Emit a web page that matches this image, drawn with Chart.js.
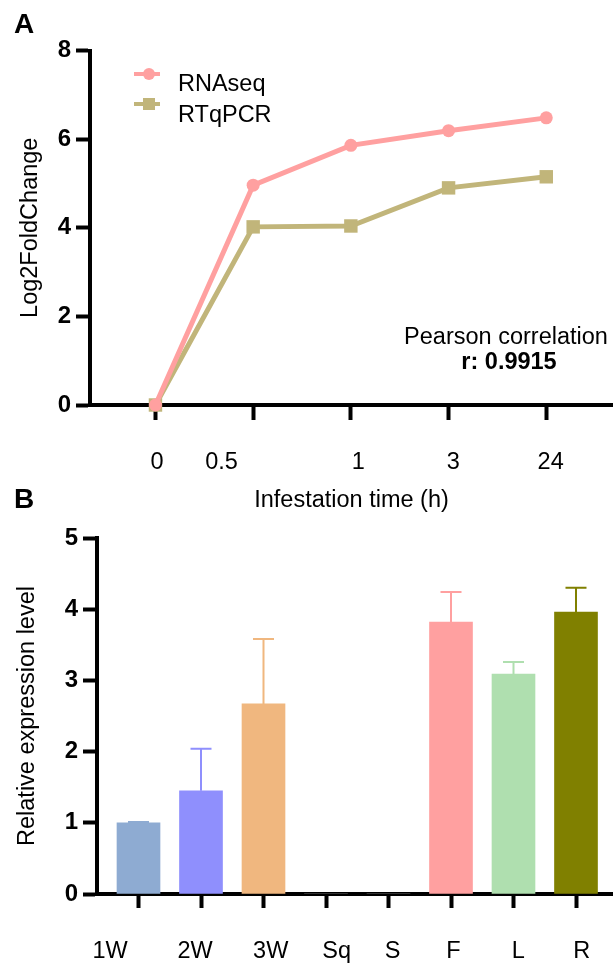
<!DOCTYPE html>
<html>
<head>
<meta charset="utf-8">
<script src="https://cdn.jsdelivr.net/npm/chart.js@4.4.1/dist/chart.umd.min.js"></script>
<style>
    html, body { margin: 0; padding: 0; background: #fff; }
    #wrap { position: relative; width: 613px; height: 967px; overflow: hidden; }
    #chartA { position: absolute; left: 0; top: 0; }
    #chartB { position: absolute; left: 0; top: 480px; }
</style>
</head>
<body>
<div id="wrap">
    <canvas id="chartB" width="613" height="487"></canvas>
    <canvas id="chartA" width="613" height="520"></canvas>
</div>
<script>
// ---- Painel A: Log2FoldChange ao longo do tempo de infestação
const timeLabels = ['0', '0.5', '1', '3', '24'];
const rnaseqValues = [0, 4.96, 5.86, 6.19, 6.48];
const rtqpcrValues = [0, 4.02, 4.04, 4.90, 5.15];

// ---- Painel B: expressão relativa por tecido
const tissueLabels = ['1W', '2W', '3W', 'Sq', 'S', 'F', 'L', 'R'];
const expressionValues = [1.00, 1.45, 2.67, 0, 0, 3.82, 3.09, 3.96];
const expressionErrors = [0.01, 0.59, 0.91, 0, 0, 0.42, 0.17, 0.34];

// cores
const COLOR_RNASEQ = '#ffa0a0';
const COLOR_RTQPCR = '#c1b57a';
const tissueColors = ['#8eabd2', '#8f8ffd', '#f0b77f', '#cccccc', '#cccccc', '#ffa0a0', '#afdfaf', '#808000'];

const FONT = "'Liberation Sans', Arial, sans-serif";
Chart.defaults.font.family = FONT;
Chart.defaults.color = '#000';

// deslocamento dos rótulos do eixo x em relação às marcas (como no original)
const timeLabelShift = [0.015, -0.324, 0.076, 0.048, 0.045];
const tissueLabelShift = [-0.456, -0.096, 0.115, 0.171, 0.067, 0.037, 0.077, 0.091];

// Texto livre (letras dos painéis, anotações)
const panelText = {
    id: 'panelText',
    afterDraw(chart, args, opts) {
        const ctx = chart.ctx;
        ctx.save();
        ctx.fillStyle = '#000';
        ctx.textBaseline = 'alphabetic';
        (opts.items || []).forEach(t => {
            ctx.font = t.font;
            ctx.textAlign = t.align || 'left';
            ctx.fillText(t.text, t.x, t.y);
        });
        ctx.restore();
    }
};

// Legenda desenhada dentro da área do gráfico
const lineLegend = {
    id: 'lineLegend',
    afterDraw(chart, args, opts) {
        const ctx = chart.ctx;
        ctx.save();
        chart.data.datasets.forEach((ds, i) => {
            const row = opts.rows[i];
            ctx.strokeStyle = ds.borderColor;
            ctx.fillStyle = ds.borderColor;
            ctx.lineWidth = 4;
            ctx.beginPath();
            ctx.moveTo(opts.x0, row.sy);
            ctx.lineTo(opts.x1, row.sy);
            ctx.stroke();
            ctx.beginPath();
            if (ds.pointStyle === 'rect') {
                ctx.rect(opts.mx - 6, row.sy - 6, 12, 12);
            } else {
                ctx.arc(opts.mx, row.sy, 6, 0, Math.PI * 2);
            }
            ctx.fill();
            ctx.fillStyle = '#000';
            ctx.font = '23.5px ' + FONT;
            ctx.textAlign = 'left';
            ctx.textBaseline = 'alphabetic';
            ctx.fillText(ds.label, opts.tx, row.ty);
        });
        ctx.restore();
    }
};

// Barras de erro (somente para cima)
const errorBars = {
    id: 'errorBars',
    afterDatasetsDraw(chart) {
        const ctx = chart.ctx;
        const xs = chart.scales.x;
        const ys = chart.scales.y;
        ctx.save();
        ctx.lineWidth = 2;
        expressionValues.forEach((v, i) => {
            if (!v) return;
            const px = xs.getPixelForValue(i);
            const base = ys.getPixelForValue(v);
            const top = ys.getPixelForValue(v + expressionErrors[i]);
            ctx.strokeStyle = tissueColors[i];
            ctx.beginPath();
            ctx.moveTo(px, base);
            ctx.lineTo(px, top);
            ctx.moveTo(px - 10.5, top);
            ctx.lineTo(px + 10.5, top);
            ctx.stroke();
        });
        ctx.restore();
    }
};

const tickFont = { family: FONT, size: 24, weight: 'bold' };
const labelFont = { family: FONT, size: 23.5 };

// ---------------- Gráfico A
new Chart(document.getElementById('chartA'), {
    type: 'line',
    data: {
        datasets: [{
            label: 'RNAseq',
            data: rnaseqValues.map((v, i) => ({ x: i, y: v })),
            borderColor: COLOR_RNASEQ,
            backgroundColor: COLOR_RNASEQ,
            borderWidth: 5,
            pointStyle: 'circle',
            pointRadius: 6.5,
            pointBorderWidth: 0,
            tension: 0,
            clip: false
        }, {
            label: 'RTqPCR',
            data: rtqpcrValues.map((v, i) => ({ x: i, y: v })),
            borderColor: COLOR_RTQPCR,
            backgroundColor: COLOR_RTQPCR,
            borderWidth: 5,
            pointStyle: 'rect',
            pointRadius: 9.5,
            pointBorderWidth: 0,
            tension: 0,
            clip: false
        }]
    },
    options: {
        responsive: false,
        animation: false,
        devicePixelRatio: 1,
        layout: { autoPadding: false, padding: { top: 50.5, right: 0, bottom: 0, left: 0 } },
        plugins: {
            legend: { display: false },
            tooltip: { enabled: false },
            lineLegend: {
                x0: 134, x1: 160, mx: 149, tx: 178,
                rows: [{ sy: 74, ty: 91 }, { sy: 104, ty: 122 }]
            },
            panelText: {
                items: [
                    { text: 'A', x: 14, y: 33, font: 'bold 28px ' + FONT },
                    { text: 'Pearson correlation', x: 506, y: 344, align: 'center', font: '23.5px ' + FONT },
                    { text: 'r: 0.9915', x: 509, y: 369, align: 'center', font: 'bold 23.5px ' + FONT }
                ]
            }
        },
        scales: {
            x: {
                type: 'linear', position: 'bottom', weight: 0, offset: false,
                min: -0.670, max: 4.683,
                afterBuildTicks: s => { s.ticks = timeLabels.map((_, i) => ({ value: i })); },
                afterFit: s => { s.height = 15; },
                border: { display: true, color: '#000', width: 4 },
                grid: { display: true, drawOnChartArea: false, offset: false, tickLength: 15, tickWidth: 4, tickColor: '#000' },
                ticks: { display: false }
            },
            xl: {
                type: 'linear', position: 'bottom', weight: 1, offset: false,
                min: -0.670, max: 4.683,
                afterBuildTicks: s => { s.ticks = timeLabels.map((_, i) => ({ value: i + timeLabelShift[i] })); },
                afterFit: s => { s.height = 100; },
                border: { display: false },
                grid: { display: false },
                ticks: {
                    autoSkip: false, maxRotation: 0, padding: 20, color: '#000', font: labelFont,
                    callback: (v, i) => timeLabels[i]
                },
                title: { display: true, text: 'Infestation time (h)', color: '#000', font: labelFont, padding: { top: 0, bottom: 5 } }
            },
            y: {
                min: 0, max: 8,
                afterFit: s => { s.width = 90; },
                border: { display: true, color: '#000', width: 4 },
                grid: { drawOnChartArea: false, tickLength: 14, tickWidth: 4, tickColor: '#000' },
                ticks: { stepSize: 2, padding: 5, color: '#000', font: tickFont },
                title: { display: true, text: 'Log2FoldChange', color: '#000', font: labelFont, padding: { top: 16, bottom: 0 } }
            }
        }
    },
    plugins: [lineLegend, panelText]
});

// ---------------- Gráfico B
new Chart(document.getElementById('chartB'), {
    type: 'bar',
    data: {
        datasets: [{
            data: expressionValues.map((v, i) => ({ x: i, y: v })),
            backgroundColor: tissueColors,
            borderWidth: 0,
            barThickness: 43
        }]
    },
    options: {
        responsive: false,
        animation: false,
        devicePixelRatio: 1,
        layout: { autoPadding: false, padding: { top: 58, right: 0, bottom: 0, left: 0 } },
        plugins: {
            legend: { display: false },
            tooltip: { enabled: false },
            panelText: {
                items: [
                    { text: 'B', x: 14, y: 28, font: 'bold 28px ' + FONT }
                ]
            }
        },
        scales: {
            x: {
                type: 'linear', position: 'bottom', weight: 0, offset: false,
                min: -0.664, max: 7.592,
                afterBuildTicks: s => { s.ticks = tissueLabels.map((_, i) => ({ value: i })); },
                afterFit: s => { s.height = 14; },
                border: { display: true, color: '#000', width: 4 },
                grid: { display: true, drawOnChartArea: false, offset: false, tickLength: 14, tickWidth: 4, tickColor: '#000' },
                ticks: { display: false }
            },
            xl: {
                type: 'linear', position: 'bottom', weight: 1, offset: false,
                min: -0.664, max: 7.592,
                afterBuildTicks: s => { s.ticks = tissueLabels.map((_, i) => ({ value: i + tissueLabelShift[i] })); },
                afterFit: s => { s.height = 59; },
                border: { display: false },
                grid: { display: false },
                ticks: {
                    autoSkip: false, maxRotation: 0, padding: 21, color: '#000', font: labelFont,
                    callback: (v, i) => tissueLabels[i]
                }
            },
            y: {
                min: 0, max: 5,
                afterFit: s => { s.width = 97; },
                border: { display: true, color: '#000', width: 4 },
                grid: { drawOnChartArea: false, tickLength: 14, tickWidth: 4, tickColor: '#000' },
                ticks: { stepSize: 1, padding: 5, color: '#000', font: tickFont },
                title: { display: true, text: 'Relative expression level', color: '#000', font: labelFont, padding: { top: 13.5, bottom: 0 } }
            }
        }
    },
    plugins: [errorBars, panelText]
});
</script>
</body>
</html>
